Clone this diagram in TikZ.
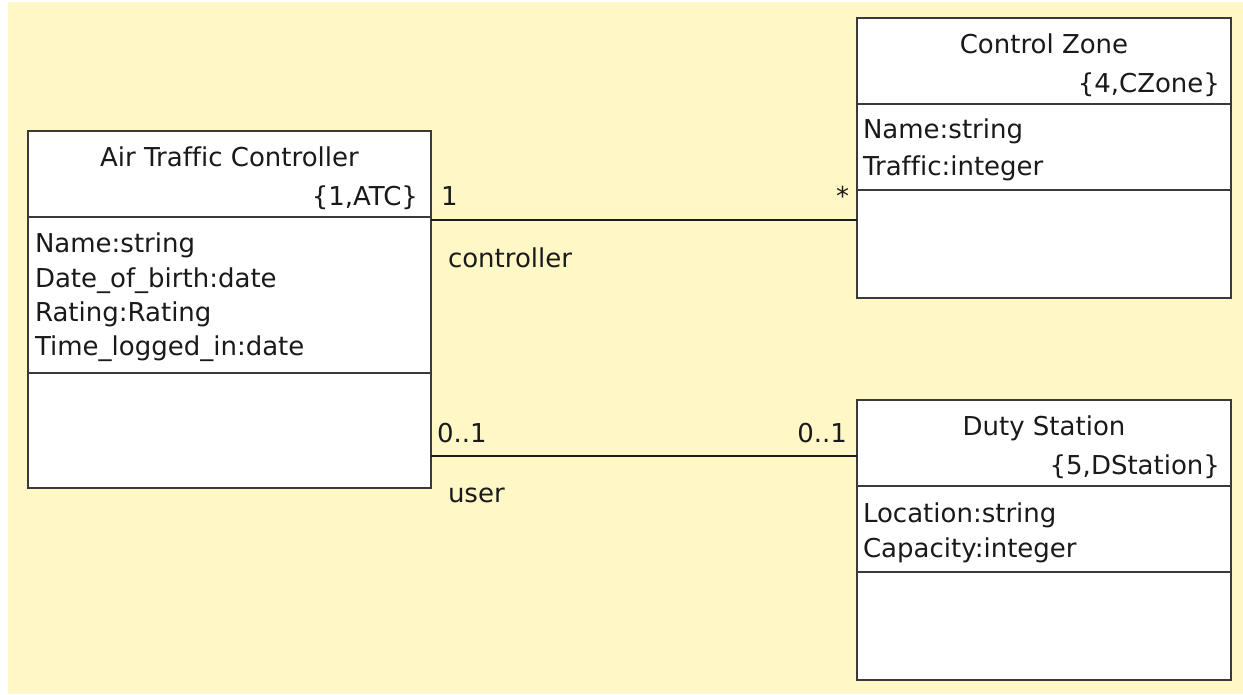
\documentclass[tikz,border=0pt]{standalone}
\usepackage{fontspec}
\setmainfont[Ligatures=NoCommon]{DejaVu Sans}
\usetikzlibrary{calc}
\definecolor{bgyellow}{RGB}{255,248,198}
\definecolor{boxline}{RGB}{58,58,58}
\definecolor{textcol}{RGB}{26,26,26}
\begin{document}
\begin{tikzpicture}[x=1pt,y=-1pt,
  classbox/.style={draw=boxline, line width=2pt, fill=white, inner sep=0pt, outer sep=0pt, anchor=north west},
  divider/.style={draw=boxline, line width=1.5pt},
  assoc/.style={draw=textcol, line width=1.5pt},
  txt/.style={inner sep=0pt, outer sep=0pt, text=textcol, font=\fontsize{26}{30}\selectfont},
]
\fill[white] (0,0) rectangle (1243,694);
\fill[bgyellow] (8,2) rectangle (1243,694);
\useasboundingbox (0,0) rectangle (1243,694);

% class boxes
\node[classbox, minimum width=403pt, minimum height=357pt] (atc) at (28,131) {};
\node[classbox, minimum width=374pt, minimum height=280pt] (cz) at (857,18) {};
\node[classbox, minimum width=374pt, minimum height=280pt] (ds) at (857,400) {};

% dividers
\foreach \b/\a/\c in {atc/86/242, cz/86/172, ds/86/172}{
  \draw[divider] ([yshift=-\a pt]\b.north west) -- ([yshift=-\a pt]\b.north east);
  \draw[divider] ([yshift=-\c pt]\b.north west) -- ([yshift=-\c pt]\b.north east);
}

% Air Traffic Controller
\node[txt, anchor=base] (atct) at ([yshift=-35pt]atc.north) {Air Traffic Controller};
\node[txt, anchor=base east] (atcg) at ([xshift=-13pt,yshift=-74pt]atc.north east) {\{1,ATC\}};
\node[txt, anchor=base west] (atca1) at ([xshift=7pt,yshift=-121pt]atc.north west) {Name:string};
\node[txt, anchor=base west] (atca2) at ([xshift=7pt,yshift=-156pt]atc.north west) {Date\_of\_birth:date};
\node[txt, anchor=base west] (atca3) at ([xshift=7pt,yshift=-190pt]atc.north west) {Rating:Rating};
\node[txt, anchor=base west] (atca4) at ([xshift=7pt,yshift=-224pt]atc.north west) {Time\_logged\_in:date};

% Control Zone
\node[txt, anchor=base] (czt) at ([yshift=-35pt]cz.north) {Control Zone};
\node[txt, anchor=base east] (czg) at ([xshift=-11pt,yshift=-74pt]cz.north east) {\{4,CZone\}};
\node[txt, anchor=base west] (cza1) at ([xshift=6pt,yshift=-120pt]cz.north west) {Name:string};
\node[txt, anchor=base west] (cza2) at ([xshift=6pt,yshift=-157pt]cz.north west) {Traffic:integer};

% Duty Station
\node[txt, anchor=base] (dst) at ([yshift=-35pt]ds.north) {Duty Station};
\node[txt, anchor=base east] (dsg) at ([xshift=-11pt,yshift=-74pt]ds.north east) {\{5,DStation\}};
\node[txt, anchor=base west] (dsa1) at ([xshift=6pt,yshift=-122pt]ds.north west) {Location:string};
\node[txt, anchor=base west] (dsa2) at ([xshift=6pt,yshift=-157pt]ds.north west) {Capacity:integer};

% associations
\coordinate (c1) at ([yshift=-89pt]atc.north east);
\coordinate (c2) at ([yshift=-325pt]atc.north east);
\draw[assoc] (c1) -- (c1 -| cz.west);
\draw[assoc] (c2) -- (c2 -| ds.west);

\node[txt, anchor=base west] (m1) at (441,205) {1};
\node[txt, anchor=base east] (m2) at (849,205) {*};
\node[txt, anchor=base west] (r1) at (448,267) {controller};
\node[txt, anchor=base west] (m3) at (437,442) {0..1};
\node[txt, anchor=base east] (m4) at (847,442) {0..1};
\node[txt, anchor=base west] (r2) at (448,502) {user};
\end{tikzpicture}
\end{document}
